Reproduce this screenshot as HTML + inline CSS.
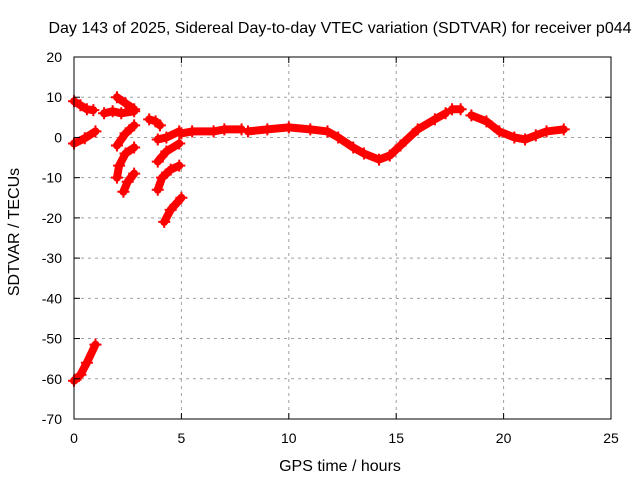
<!DOCTYPE html>
<html><head><meta charset="utf-8"><style>
body{margin:0;background:#fff;}
svg{display:block;font-family:"Liberation Sans",sans-serif;}
</style></head><body>
<svg id="chart" width="640" height="480">
<rect width="640" height="480" fill="#fff"/>
<text x="340" y="33" text-anchor="middle" font-size="16">Day 143 of 2025, Sidereal Day-to-day VTEC variation (SDTVAR) for receiver p044</text>
<text transform="translate(19,232) rotate(-90)" text-anchor="middle" font-size="16">SDTVAR / TECUs</text>
<text x="340" y="471" text-anchor="middle" font-size="16">GPS time / hours</text>
<g id="grid"></g><g id="series"></g><g id="axes"></g>
</svg>
<script>
const xTicks=[0,5,10,15,20,25];
const yTicks=[20,10,0,-10,-20,-30,-40,-50,-60,-70];
const tracks=[
 [[0,9],[0.3,8],[0.6,7],[0.9,6.8]],
 [[0,-1.5],[0.5,-0.2],[1.0,1.5]],
 [[0,-60.5],[0.3,-59],[0.6,-56],[1.0,-51.5]],
 [[1.4,6],[1.8,6.5],[2.2,6],[2.8,6.5]],
 [[2.0,10],[2.4,8.5],[2.8,7]],
 [[2.0,-2],[2.4,1],[2.8,3]],
 [[2.0,-10],[2.1,-7],[2.4,-4],[2.8,-2.5]],
 [[2.3,-13.5],[2.5,-11],[2.8,-9]],
 [[3.5,4.5],[3.8,4],[4.0,3]],
 [[3.9,-0.5],[4.3,0],[4.9,1.5]],
 [[3.9,-6],[4.3,-3.5],[4.9,-1.5]],
 [[3.9,-13],[4.1,-10],[4.5,-8],[4.9,-7]],
 [[4.2,-21],[4.5,-18],[5.0,-15]],
 [[5.0,1],[5.5,1.5],[6.5,1.5],[7.0,2],[7.8,2]],
 [[8.1,1.5],[9,2],[10,2.5],[11,2],[11.8,1.5],[12.3,0],[13,-2.5],[13.5,-4],[14.2,-5.5],[14.7,-4.5],[15.2,-2],[16,2],[16.8,4.5],[17.3,6]],
 [[17.6,7],[18.0,7]],
 [[18.5,5.5],[19.2,4],[19.8,1.5],[20.5,0],[21,-0.5],[21.5,0.5],[22,1.5],[22.8,2]]
];
const X0=74,X1=611,Y0=57,Y1=419;
const xs=v=>X0+(v/25)*(X1-X0);
const ys=v=>Y0+(20-v)/90*(Y1-Y0);
const NS='http://www.w3.org/2000/svg';
function mk(t,a,p){const e=document.createElementNS(NS,t);for(const k in a)e.setAttribute(k,a[k]);p.appendChild(e);return e;}
const grid=document.getElementById('grid'),axes=document.getElementById('axes'),ser=document.getElementById('series');
xTicks.forEach(t=>{
 if(t>0&&t<25){const g=mk('line',{x1:xs(t),x2:xs(t),y1:Y0,y2:Y1,stroke:'#a0a0a0','stroke-dasharray':'3,4'},grid);
 
 }
 const tx=mk('text',{x:xs(t),y:Y1+24,'text-anchor':'middle','font-size':14},axes);tx.textContent=t;
 
 
 mk('line',{x1:xs(t),x2:xs(t),y1:Y1,y2:Y1-6,stroke:'#000'},axes);
 mk('line',{x1:xs(t),x2:xs(t),y1:Y0,y2:Y0+6,stroke:'#000'},axes);
});
yTicks.forEach(t=>{
 if(t<20&&t>-70){const g=mk('line',{x1:X0,x2:X1,y1:ys(t),y2:ys(t),stroke:'#a0a0a0','stroke-dasharray':'3,4'},grid);
 
 }
 const tx=mk('text',{x:X0-12,y:ys(t)+5,'text-anchor':'end','font-size':14},axes);tx.textContent=t;
 
 
 mk('line',{x1:X0,x2:X0+6,y1:ys(t),y2:ys(t),stroke:'#000'},axes);
 mk('line',{x1:X1,x2:X1-6,y1:ys(t),y2:ys(t),stroke:'#000'},axes);
});
const fr=mk('rect',{x:X0,y:Y0,width:X1-X0,height:Y1-Y0,fill:'none',stroke:'#000'},axes);


tracks.forEach(tr=>{
 const pl=mk('polyline',{points:tr.map(p=>xs(p[0])+','+ys(p[1])).join(' '),fill:'none',stroke:'#f00','stroke-width':8,'stroke-linejoin':'round','stroke-linecap':'round'},ser);
 
 
 tr.forEach(p=>{
  const x=xs(p[0]),y=ys(p[1]);
  const m=mk('path',{d:`M${x-6},${y}H${x+6}M${x},${y-6}V${y+6}`,stroke:'#f00','stroke-width':2},ser);
  
  
 });
});
</script>
</body></html>
